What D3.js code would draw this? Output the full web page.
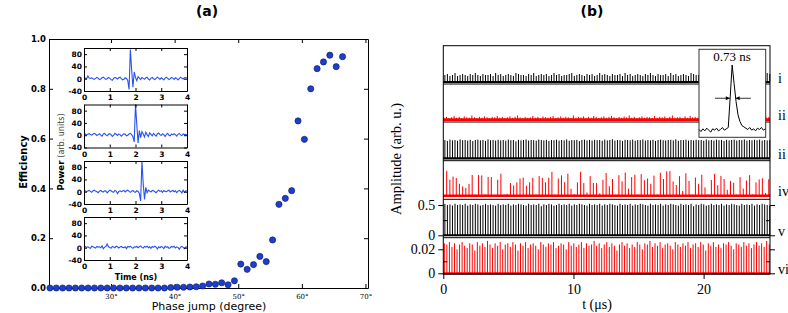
<!DOCTYPE html>
<html lang="en">
<head>
<meta charset="UTF-8" />
<script src="https://d3js.org/d3.v7.min.js"></script>
<style>
  body { margin: 0; background: white; overflow: hidden; }
  svg { display: block; background: white; }
</style>
</head>
<body>
<script>
// ---------- panel (a): efficiency vs phase jump ----------
const phaseDeg = [20.4, 21.4, 22.4, 23.4, 24.4, 25.4, 26.4, 27.4, 28.4, 29.4,
  30.4, 31.4, 32.4, 33.4, 34.4, 35.4, 36.4, 37.4, 38.4, 39.4,
  40.4, 41.4, 42.4, 43.4, 44.4, 45.4, 46.4, 47.4, 48.4, 49.4,
  50.4, 51.4, 52.4, 53.4, 54.4, 55.4, 56.4, 57.4, 58.4, 59.4,
  60.4, 61.4, 62.4, 63.4, 64.4, 65.4, 66.4];
const efficiency = [0, 0, 0, 0, 0, 0, 0, 0, 0, 0,
  0, 0, 0, 0, 0, 0, 0, 0, 0, 0.002,
  0.003, 0.003, 0.004, 0.005, 0.008, 0.016, 0.015, 0.021, 0.013, 0.029,
  0.096, 0.075, 0.094, 0.127, 0.106, 0.193, 0.336, 0.360, 0.391, 0.671,
  0.597, 0.800, 0.881, 0.908, 0.935, 0.889, 0.929];
const phaseTicks = [30, 40, 50, 60, 70];
const effTicks = [0, 0.2, 0.4, 0.6, 0.8, 1.0];

// inset waveforms (power, arb. units) sampled every 0.05 ns
const insetTime = d3.range(0, 4.0001, 0.05);
const insetPulse1 = [3, 2, 0, 9, 2, 1, 3, 0, -2, 1, 4, 2, -3, -1, 3, 5, 1, -2, 0, 4,
  2, -3, -5, 1, 4, 2, -1, 3, 5, 0, -4, -2, 3, 1, -6, -35, 95, 30, -28, 22,
  4, -6, 7, 2, -3, 4, 1, -2, 3, 5, -1, -4, 2, 4, 0, -3, 1, 5, 2, -2,
  3, 0, -4, 2, 5, 1, -3, 0, 4, 2, -2, 3, 1, -4, 0, 5, 2, -1, 3, 4, 2];
const insetPulse2 = [2, 4, 1, 3, 5, 2, 0, 4, 6, 3, -1, 2, 5, 0, -3, 4, 6, 1, -2, 3,
  5, 2, -4, 0, 6, 3, -1, 4, 2, -3, 1, 5, 3, -2, 0, 4, 6, 2, -5, -22,
  100, 35, -25, 15, -8, 12, 4, -6, 10, 2, -4, 8, 3, -2, 6, 1, -3, 4, 7, 2,
  -1, 5, 2, -4, 3, 6, 0, -2, 4, 1, 5, 2, -3, 3, 6, 1, -1, 4, 2, 3, 1];
const insetPulse3 = [1, 3, 0, 2, 4, 1, -2, 3, 5, 2, 0, -3, 2, 4, 1, -1, 3, 2, -4, 1,
  5, 3, 0, -2, 4, 2, -6, 1, 3, 0, 2, 4, -1, 3, 5, 1, -2, 2, 4, 0,
  -2, 3, 1, -6, -30, 100, 25, -25, 14, -3, 5, 2, -1, 4, 3, 0, -3, 2, 5, 1,
  3, -2, 4, 1, 0, 3, 5, -1, 2, 4, 0, 3, -3, 2, 4, 1, -4, 5, -2, 3, 2];
const insetPulse4 = [2, 4, 1, 3, 0, -2, 5, 3, 1, -1, 4, 2, 3, 0, 6, -3, 2, 4, 12, 3,
  1, -2, 4, 2, 0, 5, 3, -1, 2, 4, 1, 0, 3, -3, 4, 2, 5, 1, -2, 3,
  2, 4, 0, 3, 6, 1, -1, 4, 2, 5, 0, 3, -2, 4, 1, 5, 2, -4, 3, 0,
  4, 2, -3, 5, 1, 3, -2, 0, 4, 2, 5, -1, 3, 1, -5, 2, 4, 1, -3, 2, 3];
const insetTimeTicks = [0, 1, 2, 3, 4];
const insetPowerTicks = [-40, 0, 40, 80];

// ---------- panel (b): pulse trains ----------
const stripLabels = ["i", "ii", "ii", "iv", "v", "vi"];
const repPeriod = 0.195;    // µs
const repPeriodIV = 0.245;  // µs
const peaksI = [7,8,6,7,9,6,7,8,7,6,8,7,9,7,6,8,7,7,8,6,
  9,7,8,6,7,8,7,6,9,8,7,7,6,8,7,9,6,7,8,7,
  8,6,7,9,7,8,6,7,7,8,9,6,7,8,7,6,8,7,8,6,
  7,9,7,8,7,6,8,7,7,8,6,9,7,8,6,7,8,7,6,8,
  7,9,7,6,8,7,7,8,6,9,7,8,6,7,8,7,6,9,8,7,
  7,6,8,7,9,6,7,8,7,8,6,7,9,7,8,6,7,7,8,9,
  6,7,8,7,6,8,7,9,8];
const noiseII = [4,6,3,5,8,4,6,3,7,5,4,9,5,3,6,4,7,5,3,6,
  5,8,4,6,3,5,7,4,6,9,5,3,6,4,5,8,4,6,3,7,
  5,4,6,8,3,5,7,4,6,5,3,9,4,6,5,7,3,6,4,8,
  6,3,5,7,4,6,8,5,3,6,4,7,5,9,4,6,3,5,7,4,
  6,5,3,8,4,6,5,7,3,6,9,4,5,6,3,7,4,8,5,6,
  4,7,3,5,6,8,4,5,7,3,6,4,9,5,6,3,7,4,5,6,
  8,4,5,3,7,6,4,5,6];
const peaksIII = [10,9.5,10.2,9.8,10,9.6,10.3,9.9,10,9.7,10.1,9.4,10,10.2,9.8,10,9.5,10.3,9.9,10,
  9.7,10.1,9.8,10,9.6,10.2,9.9,10,9.3,10.1,9.8,10,10.3,9.7,10,9.9,9.6,10.2,10,9.8,
  10.1,9.5,10,9.9,10.2,9.7,10,9.8,10.3,9.6,10,9.9,10.1,9.4,10,10.2,9.8,10,9.7,10.1,
  9.9,10,9.6,10.2,9.8,10,10.4,9.7,10,9.9,9.5,10.1,10,9.8,10.2,9.6,10,9.9,10.3,9.7,
  10,9.8,10.1,9.5,10,10.2,9.9,9.7,10,10.1,9.8,10.4,9.6,10,9.9,10.2,9.7,10,9.8,10.1,
  9.9,10,9.6,10.3,9.8,10,9.7,10.2,9.9,10,9.5,10.1,9.8,10,10.2,9.7,10,9.9,10.3,9.6,
  10,9.8,10.1,9.9,10.2,9.7,10,9.8,10];
const peaksIV = [10.4,6.7,8,7.4,5,3.9,3.3,4.9,8.7,0.5,8.7,8.5,0.6,7.8,7.8,0.4,6.7,9.2,0.5,0.8,
  5.3,4.3,5.6,7.2,7.5,4.2,5.6,7.5,0.6,8.2,7.5,5.6,7.5,10,0.5,7.2,8.5,5.7,9.2,2.9,
  0.7,5.6,10,5.3,1.4,8.2,5.3,5.3,1,6.7,9.5,4,7,0.5,8.6,6,9.7,3,7.8,8.8,
  0.6,9,6.5,7.2,5,8.4,0.5,9.6,7,10.2,10.3,6,4.5,8.2,2,9.4,6.2,0.5,7.6,5,
  8.8,3.5,0.6,6.6,9.1,4.4,8.3,7,2.5,6.2,5.5,0.5,7.8,3,6.4,8.6,0.7,5.6,6.8,7.3,
  1.2,6.9];
const peaksV = [0.52,0.50,0.51,0.49,0.52,0.50,0.51,0.50,0.52,0.49,0.51,0.50,0.52,0.51,0.49,0.50,0.52,0.50,0.51,0.50,
  0.49,0.52,0.50,0.51,0.50,0.52,0.49,0.51,0.50,0.52,0.51,0.50,0.49,0.52,0.50,0.51,0.50,0.52,0.48,0.51,
  0.50,0.52,0.51,0.49,0.50,0.52,0.50,0.51,0.50,0.52,0.49,0.51,0.50,0.52,0.51,0.50,0.49,0.52,0.50,0.51,
  0.50,0.52,0.49,0.51,0.50,0.52,0.51,0.50,0.49,0.52,0.50,0.51,0.50,0.52,0.49,0.51,0.50,0.52,0.51,0.50,
  0.49,0.52,0.50,0.51,0.50,0.52,0.49,0.51,0.50,0.52,0.51,0.50,0.49,0.52,0.50,0.51,0.50,0.52,0.48,0.51,
  0.50,0.52,0.51,0.49,0.50,0.52,0.50,0.51,0.50,0.52,0.49,0.51,0.50,0.52,0.51,0.50,0.49,0.52,0.50,0.51,
  0.50,0.52,0.49,0.51,0.50,0.52,0.51,0.50,0.49];
const peaksVI = [0.025,0.024,0.026,0.022,0.025,0.020,0.024,0.026,0.023,0.021,0.025,0.024,0.019,0.026,0.023,0.025,0.022,0.027,0.024,0.021,
  0.025,0.023,0.026,0.020,0.024,0.025,0.022,0.026,0.024,0.019,0.025,0.023,0.026,0.021,0.024,0.025,0.023,0.020,0.026,0.024,
  0.022,0.025,0.024,0.026,0.021,0.023,0.025,0.024,0.020,0.026,0.023,0.025,0.022,0.024,0.026,0.021,0.025,0.023,0.024,0.027,
  0.023,0.025,0.021,0.024,0.026,0.022,0.025,0.023,0.019,0.024,0.026,0.023,0.025,0.021,0.024,0.022,0.026,0.024,0.020,0.025,
  0.024,0.027,0.022,0.025,0.023,0.026,0.021,0.024,0.025,0.023,0.020,0.026,0.024,0.022,0.025,0.023,0.026,0.021,0.024,0.025,
  0.022,0.026,0.024,0.019,0.025,0.023,0.026,0.022,0.024,0.021,0.025,0.024,0.026,0.023,0.020,0.025,0.024,0.022,0.026,0.023,
  0.025,0.021,0.024,0.026,0.023,0.025,0.022,0.027,0.024];
const timeTicks = [0, 10, 20];
// single pulse (inset), 0.25 ns steps
const pulseTime = d3.range(-4.25, 4.26, 0.25);
const pulseAmp = [0.03, 0.0, 0.04, 0.01, 0.05, 0.02, -0.01, 0.04, 0.02, 0.05, 0.01, 0.03, 0.06, 0.02, 0.04, 0.06, 0.52,
  1.0, 0.72, 0.45, 0.25, 0.15, 0.09, 0.07,
  0.05, 0.03, 0.06, 0.02, 0.04, 0.01, 0.05, 0.03, 0.06, 0.02, 0.04];

const width = 788, height = 313;
const svg = d3.select("body").append("svg")
  .attr("width", width)
  .attr("height", height);

const SANS = "'DejaVu Sans', sans-serif";
const SERIF = "'Liberation Serif', 'Times New Roman', serif";

function styleTicks(g, family, size, weight) {
  g.selectAll("text")
    .attr("font-family", family)
    .attr("font-size", size)
    .attr("font-weight", weight)
    .attr("fill", "#000");
  g.selectAll("line").attr("stroke", "#000");
  g.select(".domain").attr("stroke", "#000");
}

// ================= panel (a) =================
const xA = d3.scaleLinear().domain([20.25, 70.4]).range([49, 368]);
const yA = d3.scaleLinear().domain([0, 1]).range([288, 39]);

svg.append("g").attr("transform", "translate(0,288)")
  .call(d3.axisBottom(xA).tickValues(phaseTicks).tickSizeInner(-4).tickSizeOuter(0)
    .tickPadding(6).tickFormat(d => d + "°"))
  .call(g => styleTicks(g, "'DejaVu Serif', serif", 7, "normal"));
svg.append("g").attr("transform", "translate(0,39)")
  .call(d3.axisTop(xA).tickValues(phaseTicks).tickSizeInner(-4).tickSizeOuter(0).tickFormat(""))
  .call(g => styleTicks(g, SANS, 7, "normal"));
svg.append("g").attr("transform", "translate(49,0)")
  .call(d3.axisLeft(yA).tickValues(effTicks).tickSizeInner(-4).tickSizeOuter(0)
    .tickPadding(3).tickFormat(d3.format(".1f")))
  .call(g => styleTicks(g, SANS, 8.5, "bold"));
svg.append("g").attr("transform", "translate(368,0)")
  .call(d3.axisRight(yA).tickValues(effTicks).tickSizeInner(-4).tickSizeOuter(0).tickFormat(""))
  .call(g => styleTicks(g, SANS, 8, "normal"));

svg.append("g").selectAll("circle")
  .data(phaseDeg.map((p, i) => ({ p, e: efficiency[i] })))
  .join("circle")
  .attr("cx", d => xA(d.p))
  .attr("cy", d => yA(d.e))
  .attr("r", 3.1)
  .attr("fill", "#1d3fcf")
  .attr("stroke", "#0b1650")
  .attr("stroke-width", 0.6);

svg.append("text").text("(a)")
  .attr("x", 207).attr("y", 16).attr("text-anchor", "middle")
  .attr("font-family", SANS).attr("font-size", 14).attr("font-weight", "bold");
svg.append("text").text("Efficiency")
  .attr("transform", "translate(27,162) rotate(-90)").attr("text-anchor", "middle")
  .attr("font-family", SANS).attr("font-size", 10).attr("font-weight", "bold");
svg.append("text").text("Phase jump (degree)")
  .attr("x", 209).attr("y", 310).attr("text-anchor", "middle")
  .attr("font-family", SANS).attr("font-size", 11);

// insets
const insetTops = [48, 104.5, 161, 217];
const insetData = [insetPulse1, insetPulse2, insetPulse3, insetPulse4];
const xIn = d3.scaleLinear().domain([0, 4]).range([84, 187]);
insetData.forEach((vals, i) => {
  const top = insetTops[i];
  const yIn = d3.scaleLinear().domain([-40, 100]).range([top + 43, top]);
  const g = svg.append("g");
  g.append("rect").attr("x", 84).attr("y", top).attr("width", 103).attr("height", 43)
    .attr("fill", "white");
  g.append("path")
    .datum(vals.map((v, k) => [insetTime[k], v]))
    .attr("fill", "none").attr("stroke", "#2a52f2").attr("stroke-width", 1.1)
    .attr("d", d3.line().x(d => xIn(d[0])).y(d => yIn(d[1])));
  g.append("g").attr("transform", `translate(0,${top + 43})`)
    .call(d3.axisBottom(xIn).tickValues(insetTimeTicks).tickSizeInner(-3).tickSizeOuter(0)
      .tickPadding(4).tickFormat(d => String(d)))
    .call(a => styleTicks(a, SANS, 7.5, "bold"));
  g.append("g").attr("transform", `translate(0,${top})`)
    .call(d3.axisTop(xIn).tickValues(insetTimeTicks).tickSizeInner(-3).tickSizeOuter(0).tickFormat(""))
    .call(a => styleTicks(a, SANS, 7, "normal"));
  g.append("g").attr("transform", "translate(84,0)")
    .call(d3.axisLeft(yIn).tickValues(insetPowerTicks).tickSizeInner(-3).tickSizeOuter(0)
      .tickPadding(2).tickFormat(d => String(d)))
    .call(a => styleTicks(a, SANS, 7.5, "bold"));
  g.append("g").attr("transform", "translate(187,0)")
    .call(d3.axisRight(yIn).tickValues(insetPowerTicks).tickSizeInner(-3).tickSizeOuter(0).tickFormat(""))
    .call(a => styleTicks(a, SANS, 7, "normal"));
});
svg.append("text").text("Time (ns)")
  .attr("x", 136).attr("y", 279.5).attr("text-anchor", "middle")
  .attr("font-family", SANS).attr("font-size", 8).attr("font-weight", "bold");
const powerLabel = svg.append("text")
  .attr("transform", "translate(64,152) rotate(-90)").attr("text-anchor", "middle")
  .attr("font-family", SANS);
powerLabel.append("tspan").text("Power ").attr("font-size", 8.5).attr("font-weight", "bold");
powerLabel.append("tspan").text("(arb. units)").attr("font-size", 8).attr("fill", "#444");

// ================= panel (b) =================
const xB = d3.scaleLinear().domain([0, 25.1]).range([443.3, 770]);
const red = "#ff0000";
const strips = [
  { peaks: peaksI, period: repPeriod, t0: 0.12, color: "#000", band: 2.2, bottom: 84,
    y: d3.scaleLinear().domain([0, 10]).range([82, 72]) },
  { peaks: noiseII, period: repPeriod, t0: 0.05, color: red, band: 2.6, bottom: 122,
    y: d3.scaleLinear().domain([0, 10]).range([119.6, 115]) },
  { peaks: peaksIII, period: repPeriod, t0: 0.12, color: "#000", band: 2.2, bottom: 160.7,
    y: d3.scaleLinear().domain([0, 10]).range([158.3, 140]) },
  { peaks: peaksIV, period: repPeriodIV, t0: 0.26, color: red, band: 2.4, bottom: 199.3,
    y: d3.scaleLinear().domain([0, 10]).range([195.8, 171.8]) },
  { peaks: peaksV, period: repPeriod, t0: 0.12, color: "#000", band: 2, bottom: 237.7,
    y: d3.scaleLinear().domain([0, 0.5]).range([235.3, 205]) },
  { peaks: peaksVI, period: repPeriod, t0: 0.08, color: red, band: 2, bottom: 274,
    y: d3.scaleLinear().domain([0, 0.02]).range([273.3, 249.3]) }
];

strips.forEach((s, i) => {
  const g = svg.append("g");
  g.selectAll("line.spike")
    .data(s.peaks)
    .join("line")
    .attr("class", "spike")
    .attr("x1", (d, k) => xB(s.t0 + k * s.period))
    .attr("x2", (d, k) => xB(s.t0 + k * s.period))
    .attr("y1", s.y(0))
    .attr("y2", d => s.y(d))
    .attr("stroke", s.color)
    .attr("stroke-width", 1);
  g.append("line")
    .attr("x1", xB(0)).attr("x2", xB(25.1))
    .attr("y1", s.y(0)).attr("y2", s.y(0))
    .attr("stroke", s.color).attr("stroke-width", s.band);
  // strip separator
  svg.append("line")
    .attr("x1", xB(0)).attr("x2", xB(25.1))
    .attr("y1", s.bottom).attr("y2", s.bottom)
    .attr("stroke", "#000").attr("stroke-width", 1);
  svg.append("text").text(stripLabels[i])
    .attr("x", 778).attr("y", s.y(0) + 0.5)
    .attr("font-family", SERIF).attr("font-size", 14);
});

// frame
svg.append("rect")
  .attr("x", 443.3).attr("y", 45.7).attr("width", 770 - 443.3).attr("height", 274 - 45.7)
  .attr("fill", "none").attr("stroke", "#000").attr("stroke-width", 1);

// y axes for strips v and vi
const axisSpecs = [
  { s: strips[4], major: [0, 0.5], minor: [0.25], fmt: d3.format(".1~f") },
  { s: strips[5], major: [0, 0.02], minor: [0.01], fmt: d3.format(".2~f") }
];
axisSpecs.forEach(a => {
  svg.append("g").attr("transform", "translate(443.3,0)")
    .call(d3.axisLeft(a.s.y).tickValues(a.major).tickSize(5).tickPadding(3)
      .tickFormat(d => d === 0 ? "0" : a.fmt(d)))
    .call(g => { g.select(".domain").remove(); styleTicks(g, SERIF, 14, "normal"); });
  svg.append("g").attr("transform", "translate(443.3,0)")
    .call(d3.axisLeft(a.s.y).tickValues(a.minor).tickSize(-4).tickFormat(""))
    .call(g => { g.select(".domain").remove(); styleTicks(g, SERIF, 14, "normal"); });
  svg.append("g").attr("transform", "translate(770,0)")
    .call(d3.axisRight(a.s.y).tickValues(a.major).tickSize(5).tickFormat(""))
    .call(g => { g.select(".domain").remove(); styleTicks(g, SERIF, 14, "normal"); });
  svg.append("g").attr("transform", "translate(770,0)")
    .call(d3.axisRight(a.s.y).tickValues(a.minor).tickSize(-4).tickFormat(""))
    .call(g => { g.select(".domain").remove(); styleTicks(g, SERIF, 14, "normal"); });
});

svg.append("g").attr("transform", "translate(0,274)")
  .call(d3.axisBottom(xB).tickValues(timeTicks).tickSize(5).tickPadding(5))
  .call(g => { g.select(".domain").remove(); styleTicks(g, SERIF, 14, "normal"); });

svg.append("text").text("(b)")
  .attr("x", 592).attr("y", 16).attr("text-anchor", "middle")
  .attr("font-family", SANS).attr("font-size", 14).attr("font-weight", "bold");
svg.append("text").text("Amplitude (arb. u.)")
  .attr("transform", "translate(401,159) rotate(-90)").attr("text-anchor", "middle")
  .attr("font-family", SERIF).attr("font-size", 14.5);
svg.append("text").text("t (μs)")
  .attr("x", 597).attr("y", 309).attr("text-anchor", "middle")
  .attr("font-family", SERIF).attr("font-size", 14);

// single-pulse inset
const xP = d3.scaleLinear().domain([-4.25, 4.3]).range([699, 765.7]);
const yP = d3.scaleLinear().domain([0, 1]).range([131.5, 65]);
const gP = svg.append("g");
gP.append("rect").attr("x", 699).attr("y", 49.3).attr("width", 66.7).attr("height", 88)
  .attr("fill", "white").attr("stroke", "#333").attr("stroke-width", 1);
gP.append("path")
  .datum(pulseAmp.map((v, k) => [pulseTime[k], v]))
  .attr("fill", "none").attr("stroke", "#000").attr("stroke-width", 1)
  .attr("d", d3.line().x(d => xP(d[0])).y(d => yP(d[1])));
const yHalf = yP(0.5);
function arrow(xFrom, xTo) {
  gP.append("line").attr("x1", xFrom).attr("x2", xTo).attr("y1", yHalf).attr("y2", yHalf)
    .attr("stroke", "#000").attr("stroke-width", 0.8);
  const dir = Math.sign(xTo - xFrom);
  gP.append("path")
    .attr("d", `M${xTo},${yHalf} L${xTo - dir * 4},${yHalf - 2} L${xTo - dir * 4},${yHalf + 2} Z`)
    .attr("fill", "#000");
}
arrow(xP(-2.2), xP(-0.3));
arrow(xP(2.4), xP(0.45));
gP.append("text").text("0.73 ns")
  .attr("x", xP(0)).attr("y", 61).attr("text-anchor", "middle")
  .attr("font-family", SERIF).attr("font-size", 13);
</script>
</body>
</html>
